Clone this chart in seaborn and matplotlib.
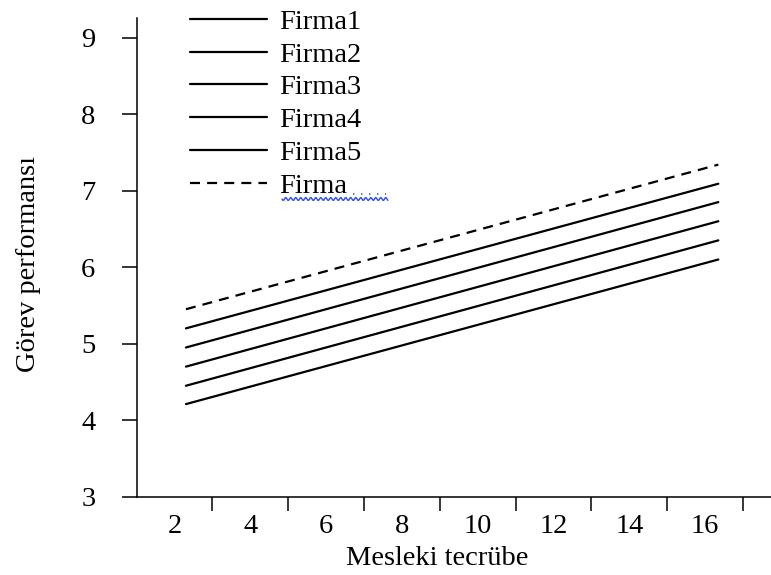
import numpy as np
import pandas as pd
import matplotlib
matplotlib.use("Agg")
import matplotlib.pyplot as plt
from matplotlib.lines import Line2D
import seaborn as sns

# Fitted lines per firm: task performance vs. professional experience
firms = ["Firma1", "Firma2", "Firma3", "Firma4", "Firma5", "Firma"]
experience = [2.3, 16.35]
perf_start = [4.21, 4.45, 4.70, 4.95, 5.20, 5.45]
perf_end = [6.10, 6.35, 6.60, 6.85, 7.09, 7.34]

x_major_ticks = [3, 5, 7, 9, 11, 13, 15, 17]
x_label_pos = [2, 4, 6, 8, 10, 12, 14, 16]
x_tick_labels = ["2", "4", "6", "8", "10", "12", "14", "16"]
y_ticks = [3, 4, 5, 6, 7, 8, 9]

rows = []
for firm, s, e in zip(firms, perf_start, perf_end):
    rows.append({"firm": firm, "Mesleki tecrübe": experience[0], "Görev performansı": s})
    rows.append({"firm": firm, "Mesleki tecrübe": experience[1], "Görev performansı": e})
df = pd.DataFrame(rows)

sns.set_theme(style="ticks")
plt.rcParams["font.family"] = ["Liberation Serif", "DejaVu Serif"]
plt.rcParams["text.color"] = "black"
plt.rcParams["axes.labelcolor"] = "black"
plt.rcParams["xtick.color"] = "black"
plt.rcParams["ytick.color"] = "black"
plt.rcParams["axes.edgecolor"] = "black"

W_PX, H_PX = 771, 575
fig = plt.figure(figsize=(W_PX / 100, H_PX / 100), dpi=100)
left, right, bottom, top = 136.7, 771.0, 496.7, 18.0
ax = fig.add_axes([left / W_PX, 1 - bottom / H_PX, (right - left) / W_PX, (bottom - top) / H_PX])

palette = {f: "black" for f in firms}
dashes = {f: "" for f in firms}
dashes["Firma"] = (4.5, 3.2)

sns.lineplot(data=df, x="Mesleki tecrübe", y="Görev performansı", hue="firm", style="firm",
             hue_order=firms, style_order=firms, palette=palette, dashes=dashes,
             linewidth=1.6, estimator=None, sort=False, ax=ax)

ax.set_xlim(1, 17.74)
ax.set_ylim(3.039, 9.256)
sns.despine(ax=ax)
for sp in ("left", "bottom"):
    ax.spines[sp].set_linewidth(1.1)

fs = 20.5
ax.set_xticks(x_major_ticks)
ax.set_xticklabels([])
ax.set_xticks(x_label_pos, minor=True)
ax.set_xticklabels(x_tick_labels, minor=True, fontsize=fs)
ax.tick_params(axis="x", which="major", length=10, width=1.1, direction="out")
ax.tick_params(axis="x", which="minor", length=0, pad=12.5)
ax.set_yticks(y_ticks)
ax.set_yticklabels([str(v) for v in y_ticks], fontsize=fs)
ax.tick_params(axis="y", which="major", length=10.8, width=1.1, direction="out", pad=19)
ax.tick_params(axis="y", which="minor", left=False)

ax.set_xlabel("Mesleki tecrübe", fontsize=fs)
ax.set_ylabel("Görev performansı", fontsize=fs)
ax.xaxis.set_label_coords(0.474, -0.104)
ax.yaxis.set_label_coords(-0.151, 0.486)

handles, labels = ax.get_legend_handles_labels()
pairs = [(h, l) for h, l in zip(handles, labels) if l in firms]
ax.legend([p[0] for p in pairs], [p[1] for p in pairs], loc="upper left",
          bbox_to_anchor=(190 / W_PX, 1 - 9 / H_PX), bbox_transform=fig.transFigure,
          frameon=False, fontsize=fs, handlelength=2.7, handletextpad=0.43,
          labelspacing=0.24, borderpad=0, borderaxespad=0)

# spell-check style wavy underline under the last legend entry
xs = np.linspace(282, 388, 300)
ys = 199 + 1.4 * np.sin(2 * np.pi * (xs - 282) / 5.0)
fig.add_artist(Line2D(xs / W_PX, 1 - ys / H_PX, transform=fig.transFigure,
                      color="#2a4cf0", lw=1.0))
fig.add_artist(Line2D([353 / W_PX, 386 / W_PX], [1 - 194 / H_PX, 1 - 194 / H_PX],
                      transform=fig.transFigure, color="#555555", lw=1.2,
                      linestyle=(0, (0.8, 4))))

fig.savefig("out.png", dpi=100)
